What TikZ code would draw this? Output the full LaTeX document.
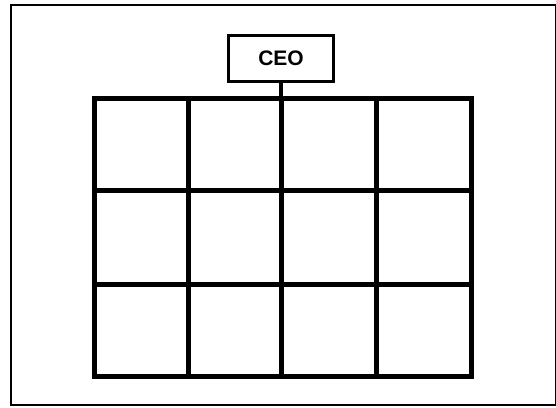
\documentclass[tikz,border=0pt]{standalone}
\usepackage{fontspec}
\setmainfont{Liberation Sans}
\usetikzlibrary{positioning}

\begin{document}
\begin{tikzpicture}[x=1pt, y=-1pt]
  \useasboundingbox (0,0) rectangle (556,407);
  % outer frame
  \draw[line width=2pt] (11,5) rectangle (555.5,405);
  % matrix of units
  \foreach \x in {94,188,281,376,471}
    \draw[line width=5pt, line cap=rect] (\x,98) -- (\x,376);
  \foreach \y in {98,190,284,376}
    \draw[line width=5pt, line cap=rect] (94,\y) -- (471,\y);
  \coordinate (gridtop) at (281,98);
  \node[rectangle, draw, line width=3pt, minimum width=105pt, minimum height=46pt,
        inner sep=0pt, font=\fontsize{21}{23}\selectfont\bfseries] (ceo) at (281,58) {CEO};
  \draw[line width=4.5pt] (ceo.south) -- (gridtop);
\end{tikzpicture}
\end{document}
